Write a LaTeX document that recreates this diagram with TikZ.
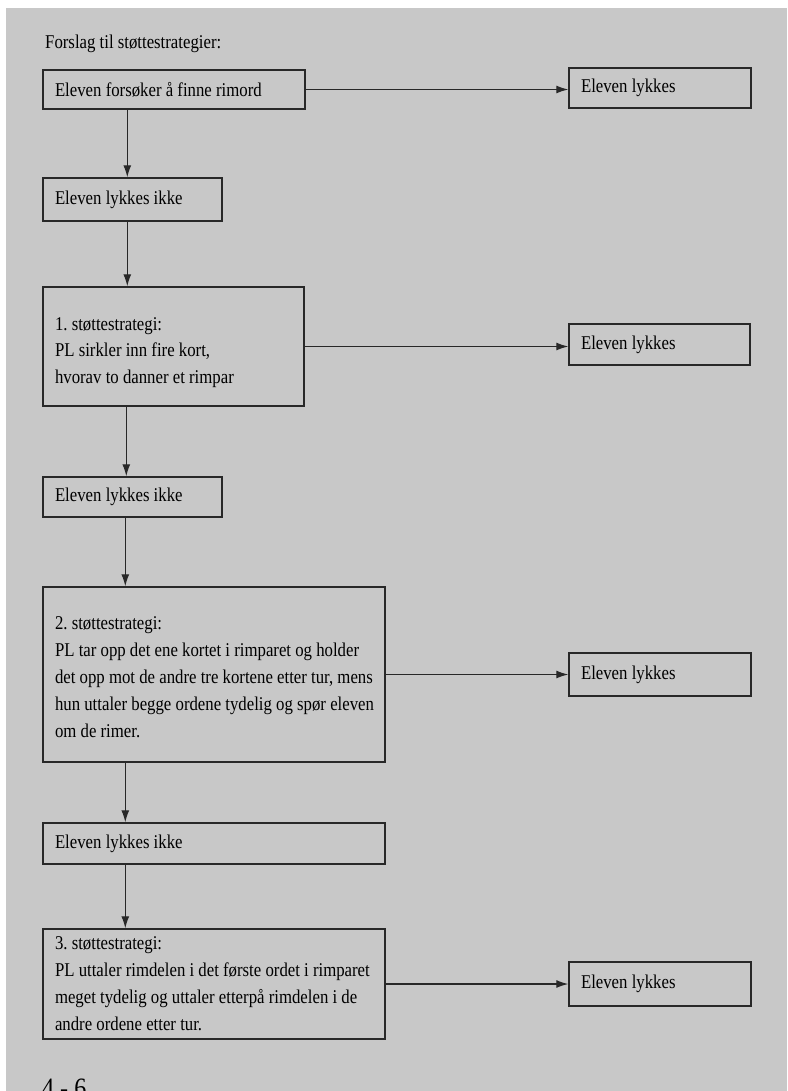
\documentclass[tikz,border=0pt]{standalone}
\usepackage{fontspec}
\setmainfont[FakeStretch=0.86]{Liberation Serif}
\usetikzlibrary{arrows.meta}
\definecolor{paper}{RGB}{200,200,200}
\definecolor{ink}{RGB}{40,40,40}
\frenchspacing
\begin{document}
\begin{tikzpicture}[x=1pt,y=-1pt,
  box/.style={draw=ink, line width=1.4pt, inner xsep=12pt, inner ysep=0pt,
    align=left, font=\fontsize{19.5}{27}\selectfont, text=black,
    execute at begin node={\spaceskip=0pt \xspaceskip=0pt }},
  arr/.style={draw=ink, line width=1.3pt, -{Latex[length=12pt,width=8pt]}},
  lbl/.style={inner sep=0pt, text=black}]
\useasboundingbox (0,0) rectangle (787,1091);
\fill[white] (0,0) rectangle (787,1091);
\fill[paper] (6,8) rectangle (787,1091);

\node[lbl, anchor=base west, font=\fontsize{19.5}{27}\selectfont] (title) at (45,49) {Forslag til støttestrategier:};

\node[box, text width=238pt, minimum height=39pt] (b1) at (174,89.5) {\mbox{Eleven forsøker å finne rimord}};
\node[box, text width=158pt, minimum height=40pt] (r1) at (660,88) {\mbox{Eleven lykkes}};

\node[box, text width=155pt, minimum height=43pt] (b2) at (132.5,199.5) {\mbox{Eleven lykkes ikke}};

\node[box, text width=237pt, minimum height=119pt] (b3) at (173.5,346.5) {\rule{0pt}{26pt}\mbox{1. støttestrategi:}\\[-1pt]\mbox{PL sirkler inn fire kort,}\\\mbox{hvorav to danner et rimpar}};
\node[box, text width=157pt, minimum height=41pt] (r2) at (659.5,344.5) {\mbox{Eleven lykkes}};

\node[box, text width=155pt, minimum height=40pt] (b4) at (132.5,497) {\mbox{Eleven lykkes ikke}};

\node[box, text width=318pt, minimum height=175pt] (b5) at (214,674.5) {\rule{0pt}{18pt}\mbox{2. støttestrategi:}\\\mbox{PL tar opp det ene kortet i rimparet og holder}\\\mbox{det opp mot de andre tre kortene etter tur, mens}\\\mbox{hun uttaler begge ordene tydelig og spør eleven}\\\mbox{om de rimer.}};
\node[box, text width=158pt, minimum height=43pt] (r3) at (660,674.5) {\mbox{Eleven lykkes}};

\node[box, text width=318pt, minimum height=41pt] (b6) at (214,843.5) {\mbox{Eleven lykkes ikke}};

\node[box, text width=318pt, minimum height=110pt] (b7) at (214,984) {\mbox{3. støttestrategi:}\\\mbox{PL uttaler rimdelen i det første ordet i rimparet}\\\mbox{meget tydelig og uttaler etterpå rimdelen i de}\\\mbox{andre ordene etter tur.}};
\node[box, text width=158pt, minimum height=44pt] (r4) at (660,984) {\mbox{Eleven lykkes}};

\node[lbl, anchor=north west, font=\fontsize{28}{30}\selectfont] (page) at (42,1079) {4 - 6};

\draw[arr] (b1.east) -- (b1.east -| r1.west);
\draw[arr] (b3.east) -- (b3.east -| r2.west);
\draw[arr] (b5.east) -- (b5.east -| r3.west);
\draw[arr] (b7.east) -- (b7.east -| r4.west);

\draw[arr] ([xshift=85pt]b1.south west) -- ([xshift=85pt]b2.north west);
\draw[arr] ([xshift=85pt]b2.south west) -- ([xshift=85pt]b3.north west);
\draw[arr] ([xshift=84pt]b3.south west) -- ([xshift=84pt]b4.north west);
\draw[arr] ([xshift=83pt]b4.south west) -- ([xshift=83pt]b5.north west);
\draw[arr] ([xshift=83pt]b5.south west) -- ([xshift=83pt]b6.north west);
\draw[arr] ([xshift=83pt]b6.south west) -- ([xshift=83pt]b7.north west);
\end{tikzpicture}
\end{document}
